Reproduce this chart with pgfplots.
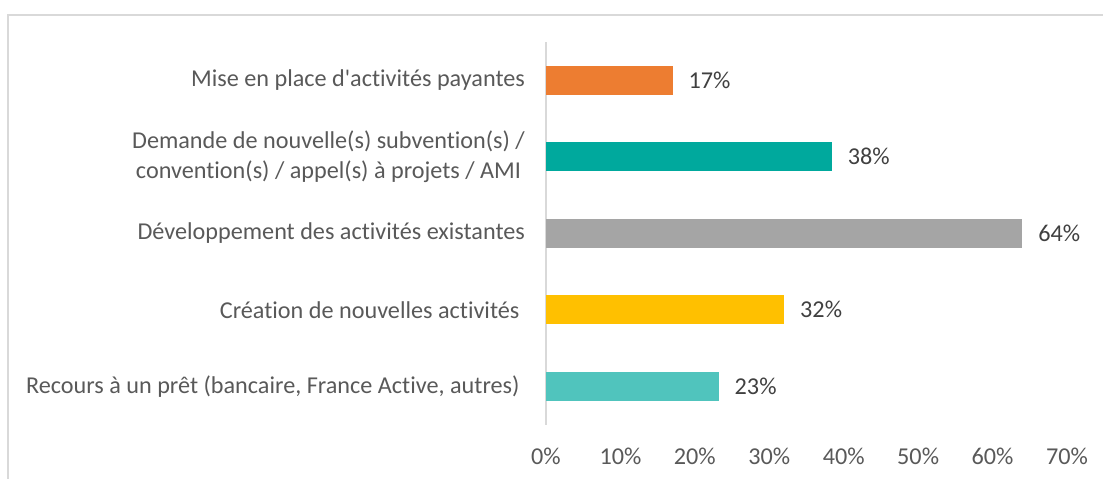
\documentclass[border=0pt]{standalone}
\usepackage{fontspec}
\setmainfont{Carlito}[Ligatures={NoCommon}]
\usepackage{pgfplots}
\pgfplotsset{compat=1.18}
\definecolor{cOrange}{HTML}{ED7D31}
\definecolor{cTeal}{HTML}{00A99D}
\definecolor{cGray}{HTML}{A5A5A5}
\definecolor{cGold}{HTML}{FFC000}
\definecolor{cLtTeal}{HTML}{50C4BD}
\definecolor{txtGray}{HTML}{595959}
\definecolor{lblGray}{HTML}{404040}
\definecolor{lineGray}{HTML}{D9D9D9}
\begin{document}
\begin{tikzpicture}
\useasboundingbox (-273pt,-26.75pt) rectangle (278.5pt,212.25pt);
\draw[lineGray, line width=0.75pt] (-269pt,-40pt) |- (300pt,204.75pt);
\begin{axis}[
    scale only axis,
    width=260.5pt, height=191.25pt,
    xbar, bar width=14.5pt, bar shift=0pt,
    xmin=0, xmax=70, ymin=-0.5, ymax=4.5,
    axis lines*=left,
    x axis line style={draw=none},
    y axis line style={draw=lineGray, line width=1pt},
    major tick length=0pt,
    xtick={0,10,...,70},
    xticklabel={\pgfmathprintnumber{\tick}\%},
    ytick={0,1,2,3,4},
    yticklabels={
        Recours à un prêt (bancaire{,} France Active{,} autres)\ ,
        Création de nouvelles activités\ ,
        Développement des activités existantes,
        {Demande de nouvelle(s) subvention(s) /\\convention(s) / appel(s) à projets / AMI},
        Mise en place d\textquotesingle activités payantes},
    font=\fontsize{12.1}{15}\selectfont,
    tick label style={txtGray},
    xticklabel style={anchor=center, yshift=-16pt},
    yticklabel style={align=center, xshift=-7pt},
    /pgf/number format/assume math mode=true,
    nodes near coords={\pgfmathprintnumber[fixed, precision=0]{\pgfplotspointmeta}\%},
    nodes near coords style={lblGray, anchor=west, xshift=4.5pt},
    point meta=x,
]
\addplot[fill=cLtTeal, draw=none] coordinates {(23.2,0)};
\addplot[fill=cGold, draw=none] coordinates {(32,1)};
\addplot[fill=cGray, draw=none] coordinates {(64,2)};
\addplot[fill=cTeal, draw=none] coordinates {(38.4,3)};
\addplot[fill=cOrange, draw=none] coordinates {(17,4)};
\end{axis}
\end{tikzpicture}
\end{document}
